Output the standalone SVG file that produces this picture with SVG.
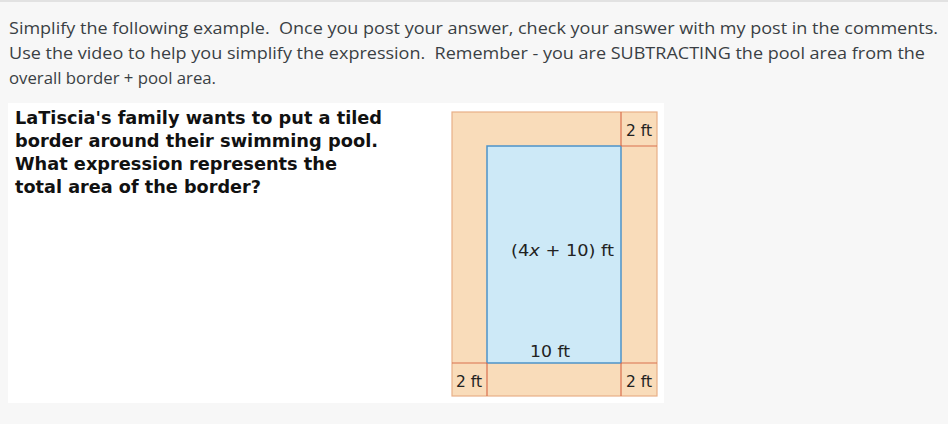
<svg xmlns="http://www.w3.org/2000/svg" width="948" height="424" viewBox="0 0 948 424">
<style>
.intro{font-family:"Open Sans","Liberation Sans",sans-serif;font-size:17px;fill:#3a3f44;white-space:pre}
.q{font-family:"DejaVu Sans","Liberation Sans",sans-serif;font-size:17.5px;font-weight:bold;fill:#111}
.lbl{font-family:"DejaVu Sans","Liberation Sans",sans-serif;font-size:16.5px;fill:#222}
.border{fill:#f9dcba;stroke:#e8b088;stroke-width:1.2}
.pool{fill:#cde9f7;stroke:#4d93c9;stroke-width:1.5}
.dim{stroke:#d9704f;stroke-width:1.2;fill:none}
</style>
<rect x="0" y="0" width="948" height="424" fill="#f7f7f7"/>
<rect x="0" y="0" width="948" height="2" fill="#e2e2e2"/>
<g id="intro-text">
<text class="intro" x="9" y="34" textLength="929" lengthAdjust="spacingAndGlyphs">Simplify the following example.  Once you post your answer, check your answer with my post in the comments.</text>
<text class="intro" x="9" y="59" textLength="916" lengthAdjust="spacingAndGlyphs">Use the video to help you simplify the expression.  Remember - you are SUBTRACTING the pool area from the</text>
<text class="intro" x="9" y="84" textLength="207" lengthAdjust="spacingAndGlyphs">overall border + pool area.</text>
</g>
<rect x="8" y="103" width="656" height="300" fill="#ffffff"/>
<g id="question">
<text class="q" x="15" y="124" textLength="367" lengthAdjust="spacingAndGlyphs">LaTiscia's family wants to put a tiled</text>
<text class="q" x="15" y="147" textLength="363" lengthAdjust="spacingAndGlyphs">border around their swimming pool.</text>
<text class="q" x="15" y="170" textLength="322" lengthAdjust="spacingAndGlyphs">What expression represents the</text>
<text class="q" x="15" y="193" textLength="246" lengthAdjust="spacingAndGlyphs">total area of the border?</text>
</g>
<g id="border">
<rect class="border" x="452" y="112" width="205" height="284"/>
</g>
<g id="pool">
<rect class="pool" x="487" y="146" width="134" height="217"/>
<text class="lbl" x="511" y="256" textLength="103" lengthAdjust="spacingAndGlyphs">(4<tspan font-style="italic">x</tspan> + 10) ft</text>
<text class="lbl" x="530" y="357" textLength="40" lengthAdjust="spacingAndGlyphs">10 ft</text>
</g>
<g id="dimensions">
<path class="dim" d="M621 112V146M621 146H657M452 363H487M487 363V396M621 363H657M621 363V396"/>
<text class="lbl" x="626" y="136" textLength="26" lengthAdjust="spacingAndGlyphs">2 ft</text>
<text class="lbl" x="456" y="387" textLength="26" lengthAdjust="spacingAndGlyphs">2 ft</text>
<text class="lbl" x="626" y="387" textLength="26" lengthAdjust="spacingAndGlyphs">2 ft</text>
</g>
</svg>
